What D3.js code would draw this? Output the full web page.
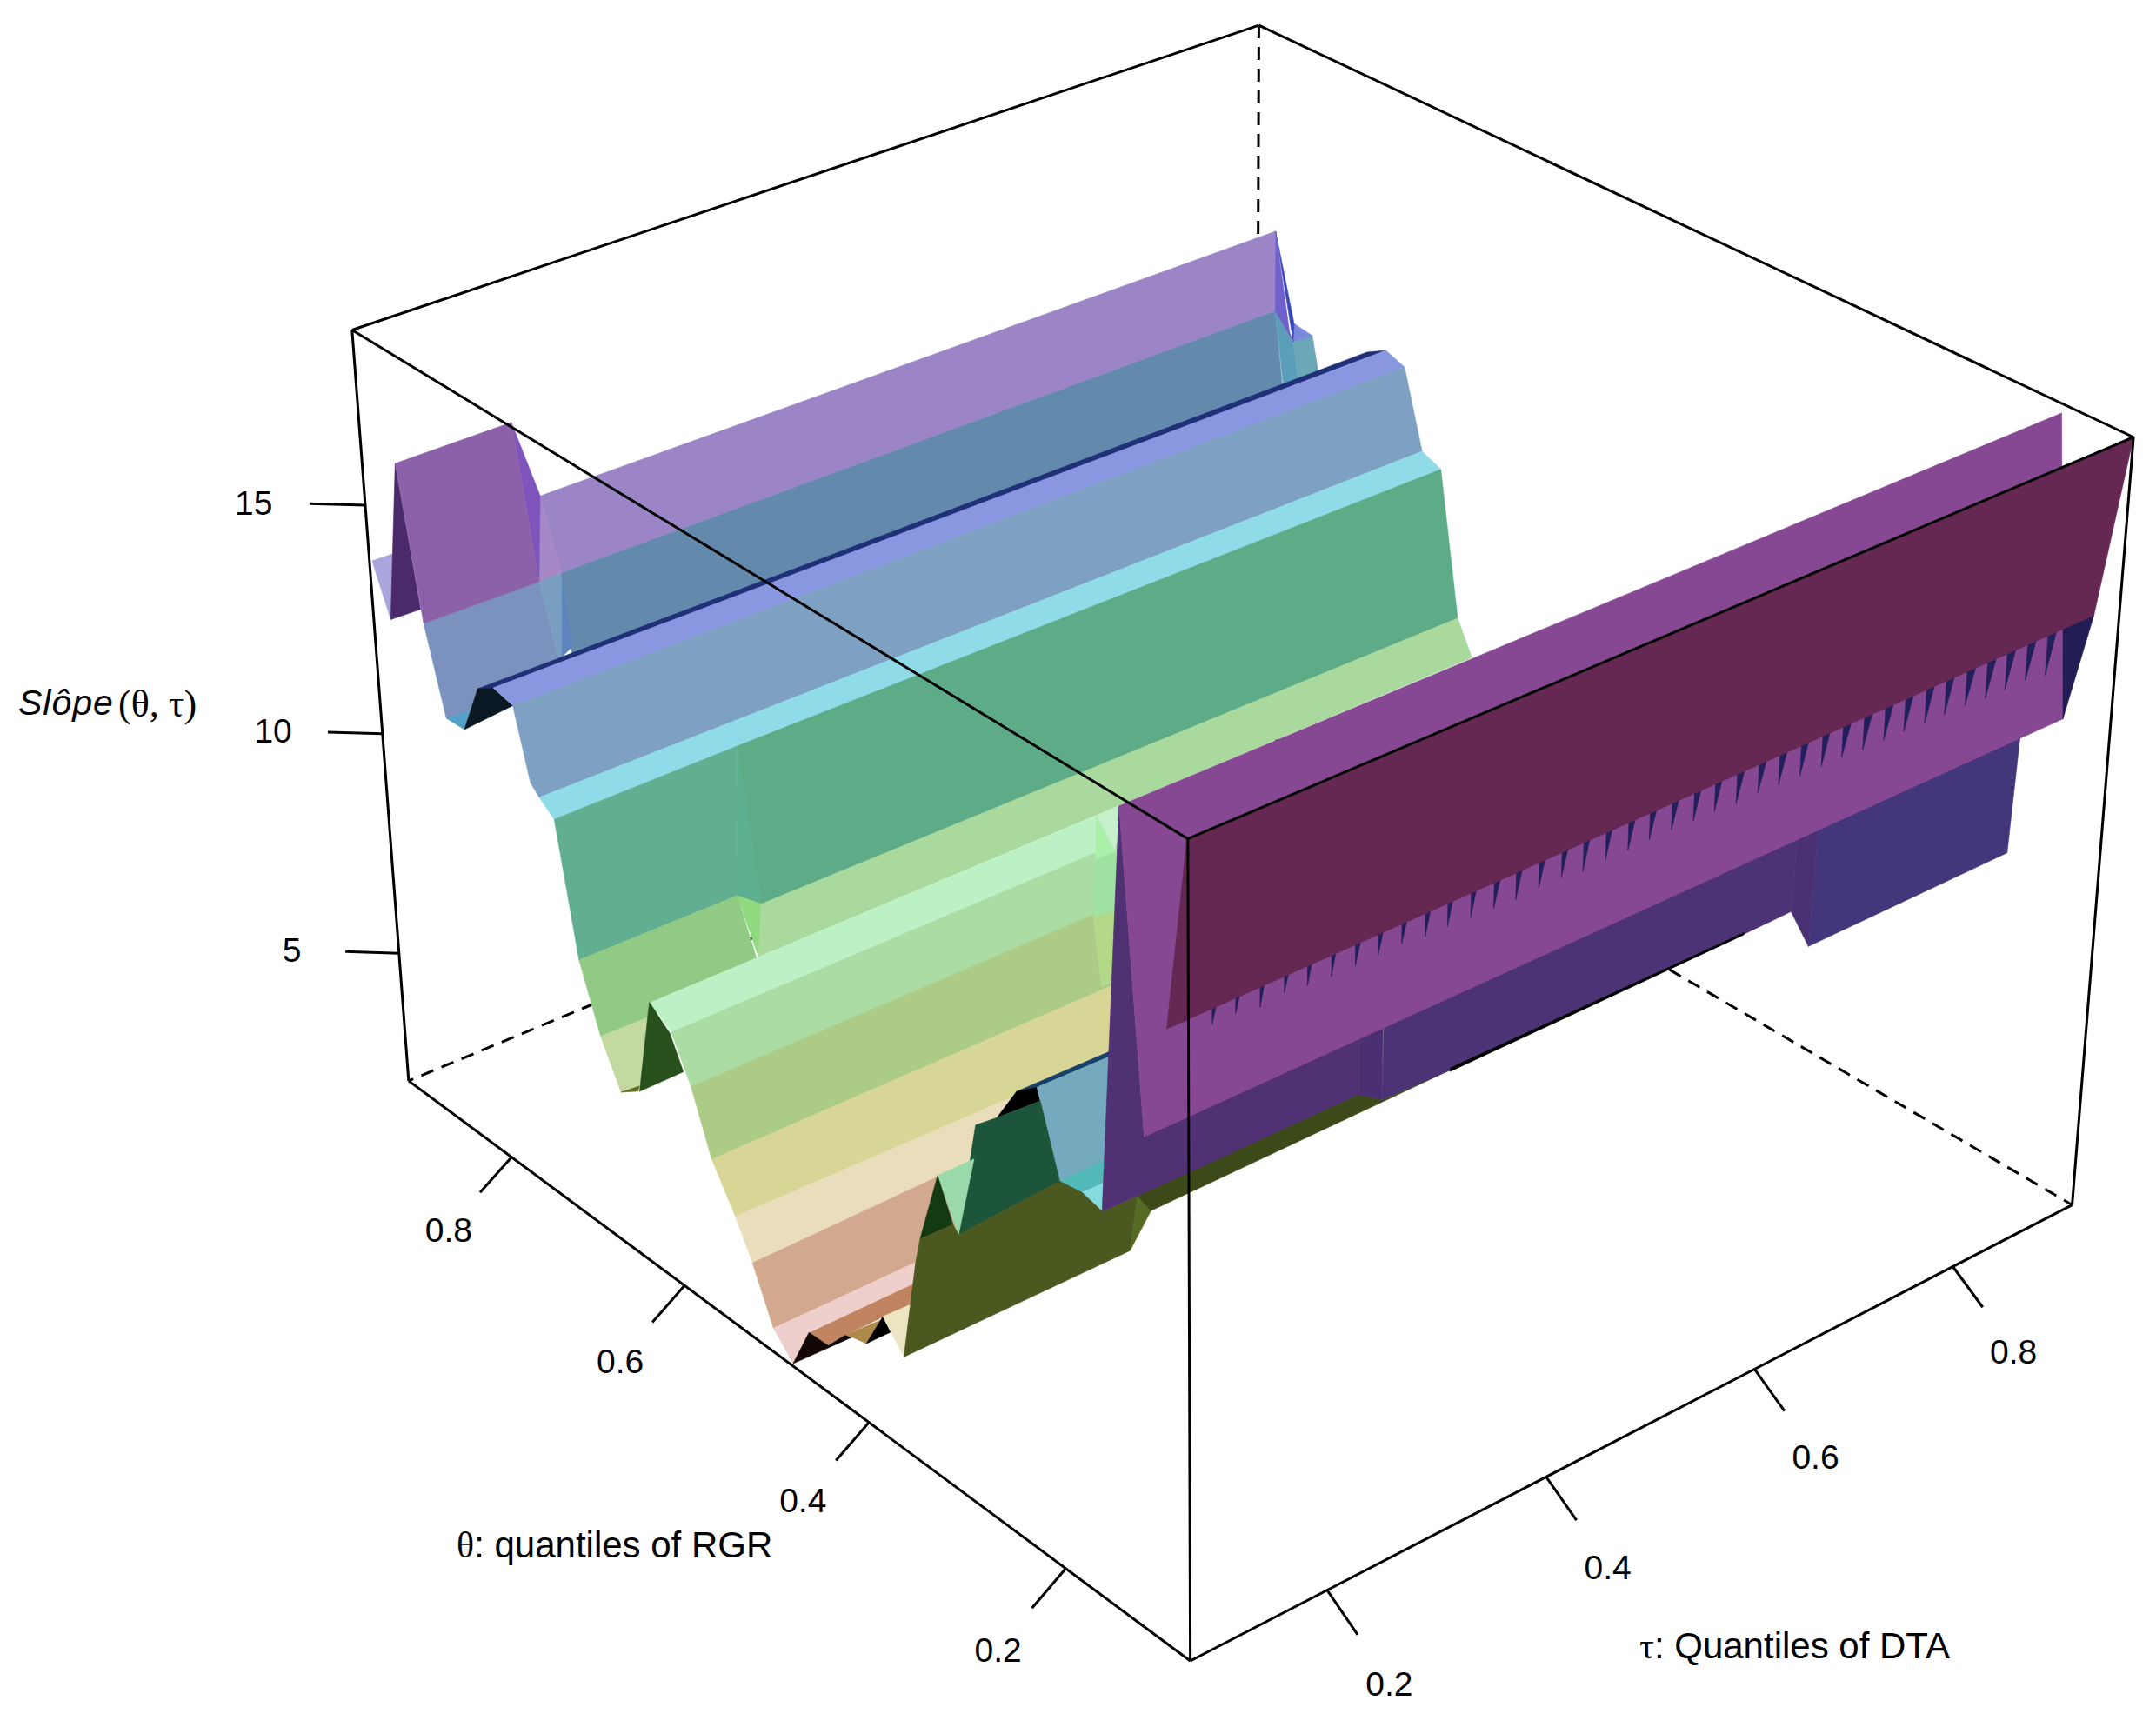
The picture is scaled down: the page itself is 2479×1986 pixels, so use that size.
<!DOCTYPE html>
<html><head><meta charset="utf-8">
<script src="https://cdn.jsdelivr.net/npm/d3@7"></script>
<style>html,body{margin:0;background:#fff}svg{display:block}</style></head><body>
<svg id="c" width="2479" height="1986"></svg>
<script>
// axis tick values
const thetaTicks=[0.2,0.4,0.6,0.8];
const tauTicks=[0.2,0.4,0.6,0.8];
const zTicks=[5,10,15];
// surface facets, back to front: fill, tau and theta (as fractions of the box), slope values
const facetFill=["#aaa5dc","#9b85c6","#a688c6","#6389ac","#5a9eba","#6aa7b7","#7a88dd","#3a49b8","#7060cb","#5e85bd","#7b92bf","#7a9ec0","#54a1c7","#4b2a6b","#7f55bd","#8b62aa","#203078","#0a1824","#8996e0","#7ea0c2","#8fdbe8","#62ae91","#5cb08f","#5dab87","#90ca85","#8fd97f","#a9d99c","#c4d9a0","#5c6a1e","#27501d","#bbf1c4","#aadca4","#accb87","#d8d696","#e9ddbb","#d2a98f","#c6efcb","#a9f0a9","#a0e2a2","#b4d88a","#efcfcb","#c08560","#130606","#ad8a4a","#000000","#ece5c2","#17406a","#000000","#74a9be","#53b9b8","#84dcdf","#1c5539","#9ad9a9","#133a13","#4b5820","#556b24","#3b4a18","#43367b","#4a3174","#4b3375","#4b2f72","#4f3174","#000000","#874893","#221c54"];
const facetTau=[[0,.03,.03,0],[.17,1,1,.2],[.17,.2,.17],[.2,1,1,.2],[1,1,1,1],[1,1,1,1],[1,1,1],[1,1,1],[1,1,1,1],[.2,.2,.2],[.03,.17,.2,0,0,0],[.17,.2,.2,.2],[0,0,0],[.03,0,.03],[.14,.17,.17],[.03,.14,.17,.03],[0,1,1,0],[0,0,0,0],[0,1,1,0],[0,1,1,0,0],[0,1,1,0],[0,.2,.2,0],[.2,.22,.2],[.2,1,1,.22],[0,.2,.2,.05,0],[.2,.22,.22],[.22,1,1,.22],[0,.05,.05,0],[0,.03,.03],[.03,.03,.05,.05],[0,.6,.6,0],[0,.6,.6,0],[0,.6,.6,0],[0,.6,.6,0],[0,.6,.6,0],[0,.6,.6,0],[.6,.6,.6],[.6,.6,.6],[.6,.6,.6,.6],[.6,.6,.6,.6],[0,.3,.3,.05,0],[.05,.3,.3,.2,.15,.08,.06],[0,.02,.04,.06,.07],[.06,.12,.1,.07],[.1,.12,.13],[.12,.15,.15],[.3,.5,.5,.3],[.3,.3,.3,.3],[.3,.5,.5,.3,.3],[.3,.5,.5,.3],[.3,.5,.3],[.3,.3,.3,.3,.3],[.3,.3,.3],[.3,.3,.3],[.3,.3,.3,.3,.3,.3,.3,.3,.3,.3],[.3,.3,.3,.3],[.3,.3,.3,.3,.3],[.9,1,1,.9],[.9,.9,.9,.9],[.3,.9,.9,.9,.3,.3],[.3,.3,.3,.3],[0,0,.3,.3,.1,0],[.3,.9,.9,.3],[0,1,1,0],[1,1,1]];
const facetTheta=[[.996,1.006,1.016,.975],[.989,.977,.977,1.007],[.989,1.007,.998],[1.007,.977,.966,.997],[.977,.953,.946,.966],[.953,.928,.920,.946],[.952,.928,.953],[.977,.952,.953],[.977,.977,.953,.958],[1.007,.997,1.014],[.971,.998,1.018,.856,.868,.904],[.998,1.007,1.014,1.018],[.904,.868,.879],[.996,.975,.974],[.982,.989,.998],[.996,.982,.998,.971],[.856,.857,.833,.834],[.879,.856,.834,.808],[.834,.833,.809,.808],[.808,.809,.785,.779,.790],[.779,.785,.761,.760],[.760,.772,.781,.737],[.772,.774,.781],[.772,.761,.736,.774],[.737,.781,.758,.714,.713],[.781,.774,.781],[.774,.736,.717,.781],[.713,.714,.731,.689],[.689,.704,.706],[.704,.684,.685,.669],[.642,.747,.744,.616],[.616,.744,.744,.593],[.593,.744,.745,.570],[.570,.745,.746,.542],[.542,.746,.747,.522],[.522,.747,.748,.498],[.777,.747,.753],[.777,.753,.779],[.779,.753,.753,.783],[.783,.753,.755,.773],[.498,.624,.624,.514,.474],[.514,.624,.625,.566,.542,.505,.504],[.474,.477,.478,.480,.484],[.480,.506,.503,.484],[.503,.505,.508],[.505,.505,.516],[.541,.645,.645,.515],[.541,.515,.511,.567],[.515,.645,.647,.488,.511],[.488,.647,.647,.460],[.460,.647,.435],[.595,.567,.511,.488,.621],[.647,.598,.621],[.647,.628,.673],[.700,.680,.673,.628,.621,.488,.460,.435,.391,.401],[.391,.375,.375,.401],[.391,.135,.109,.037,.375],[.211,.089,.095,.216],[.233,.211,.216,.237],[.109,.233,.237,.290,.037,.109],[.136,.110,.109,.135],[.072,.048,.136,.135,.112,.095],[.037,.288,.288,.037],[.072,.072,.048,.048],[.055,.025,.048]];
const facetZ=[[14.14,13.98,12.46,13.08],[14.34,14.52,12.66,12.23],[14.34,12.23,12.36],[12.23,12.66,10.80,10.30],[12.66,12.17,11.34,11.04],[12.17,12.54,11.78,11.34],[12.60,12.54,12.17],[14.52,12.60,12.17],[14.52,12.66,12.17,12.35],[12.23,10.68,10.26],[12.80,12.36,10.22,12.81,12.21,11.66],[12.36,12.23,10.26,10.22],[11.66,12.21,11.68],[16.01,13.08,13.08],[16.22,14.34,12.36],[16.01,16.22,12.36,12.80],[12.81,12.81,13.07,13.06],[11.68,12.81,13.06,12.95],[13.06,13.07,12.91,12.95],[12.95,12.91,11.19,11.28,11.48],[11.28,11.19,11.00,11.01],[11.01,10.83,7.38,8.18],[10.83,7.10,7.38],[10.83,11.00,7.75,7.10],[8.18,7.38,6.22,6.72,6.76],[7.38,7.10,5.81],[7.10,7.75,7.01,5.81],[6.76,6.72,4.94,5.79],[5.79,5.47,5.33],[5.35,7.59,6.71,6.03],[8.35,6.43,5.63,8.00],[8.00,5.63,4.20,7.07],[7.07,4.20,2.29,5.74],[5.74,2.29,.61,4.81],[4.81,.61,-.42,4.02],[4.02,-.42,-2.36,2.85],[5.86,6.43,5.28],[5.86,5.28,4.81],[4.81,5.28,3.88,3.38],[3.38,3.88,2.17,1.84],[2.85,.25,-.24,2.04,2.36],[2.04,-.24,-.81,.52,1.04,1.80,1.79],[2.36,2.83,2.32,2.33,2.13],[2.33,1.75,1.43,2.13],[1.43,1.83,1.33],[1.83,1.81,.45],[4.83,2.72,2.60,5.24],[4.83,5.24,4.98,3.91],[5.24,2.60,.08,3.42,4.98],[3.42,.14,-.41,3.51],[3.51,-.41,3.39],[3.40,3.91,4.98,3.42,.49],[1.57,2.57,.49],[1.57,.65,-.27],[-3.50,-.93,-.27,.65,.49,3.42,3.51,3.39,4.30,2.92],[4.30,4.64,4.16,2.92],[4.30,9.68,9.88,11.37,4.16],[9.90,12.40,9.19,6.58],[9.50,9.90,6.58,7.13],[12.06,9.50,7.13,5.99,11.37,9.88],[11.50,12.00,9.88,9.68],[18.83,12.65,11.50,9.68,10.17,10.55],[11.34,6.02,6.07,11.41],[18.83,18.81,12.63,12.65],[14.50,15.07,12.63]];
// the front wall, drawn after its saw-teeth
const wallTau=[0,1,1,0],wallTheta=[.001,.000,.025,.023],wallZ=[18.99,18.99,15.07,15.09];
// saw-teeth under the wall: position, depth and width
const toothTau=[.045,.068,.092,.116,.139,.163,.187,.210,.234,.258,.281,.305,.329,.352,.376,.400,.423,.447,.471,.494,.518,.542,.565,.589,.613,.636,.660,.684,.707,.731,.755,.778,.802,.825,.849,.873,.896,.920,.944];
const toothDepth=[.31,.31,.40,.33,.40,.43,.43,.43,.40,.48,.46,.50,.52,.54,.52,.50,.58,.55,.56,.54,.54,.56,.56,.60,.58,.60,.62,.62,.62,.66,.66,.66,.70,.70,.70,.74,.74,.74,.82];
const toothWidth=[.005,.005,.005,.005,.005,.005,.006,.006,.006,.006,.006,.006,.007,.007,.007,.007,.007,.007,.008,.008,.008,.008,.008,.009,.009,.009,.009,.009,.010,.010,.010,.010,.010,.010,.011,.011,.011,.011,.011];
const toothTheta=.024,toothEdge=15.08;

const svg=d3.select("#c");
const sans="'Liberation Sans',Arial,sans-serif",serif="'Liberation Serif',serif";
// box corners on the page
const corners=[[0,1,1,405,379],[0,1,0,470,1243],[0,0,1,1365,965],[0,0,0,1369,1910],[1,0,1,2453,503],[1,0,0,2383,1385],[1,1,1,1448,29],[1,1,0,1444,838]];
function fitView(C){const A=[],b=[];for(const[X,Y,Z,u,v]of C){A.push([X,Y,Z,1,0,0,0,0,-u*X,-u*Y,-u*Z]);b.push(u);A.push([0,0,0,0,X,Y,Z,1,-v*X,-v*Y,-v*Z]);b.push(v);}
const n=11,M=[];for(let i=0;i<n;i++){M.push([]);for(let j=0;j<n;j++){let s=0;for(let k=0;k<A.length;k++)s+=A[k][i]*A[k][j];M[i].push(s);}let s=0;for(let k=0;k<A.length;k++)s+=A[k][i]*b[k];M[i].push(s);}
for(let i=0;i<n;i++){let p=i;for(let r=i;r<n;r++)if(Math.abs(M[r][i])>Math.abs(M[p][i]))p=r;[M[i],M[p]]=[M[p],M[i]];for(let r=0;r<n;r++)if(r!=i){const f=M[r][i]/M[i][i];for(let c=i;c<=n;c++)M[r][c]-=f*M[i][c];}}
return M.map((r,i)=>r[n]/r[i]);}
const h=fitView(corners);
const P=(t,th,w)=>{const d=h[8]*t+h[9]*th+h[10]*w+1;return[(h[0]*t+h[1]*th+h[2]*w+h[3])/d,(h[4]*t+h[5]*th+h[6]*w+h[7])/d];};
// quantile axes run over part of 0..1; slope axis over the box height
const quantS=d3.scaleLinear().domain([.08,.925]).range([0,1]);
const zS=d3.scaleLinear().domain([2.0,18.7]).range([0,1]);
const surfaceZ=z=>zS(z-0.3);
const line=d3.line().curve(d3.curveLinearClosed);

// hidden edges
const edge=(g,a,b,dash)=>g.append("path").attr("d",d3.line()([P(...a),P(...b)])).attr("fill","none").attr("stroke","#000").attr("stroke-width",3).attr("stroke-dasharray",dash||null);
const back=svg.append("g");
edge(back,[1,1,1],[1,1,0],"15,10");edge(back,[1,1,0],[0,1,0],"15,10");edge(back,[1,1,0],[1,0,0],"15,10");

// surface
const surf=svg.append("g");
const poly=(pts,fill)=>surf.append("path").attr("d",line(pts)).attr("fill",fill).attr("stroke",fill).attr("stroke-width",.6);
facetFill.forEach((f,i)=>poly(facetTau[i].map((t,j)=>P(t,facetTheta[i][j],surfaceZ(facetZ[i][j]))),f));
toothTau.forEach((t,i)=>poly([
 P(t,toothTheta,surfaceZ(toothEdge+.1)),
 P(t+toothWidth[i],toothTheta,surfaceZ(toothEdge+.1)),
 P(t,toothTheta,surfaceZ(toothEdge-toothDepth[i]))],"#221f5a"));
poly(wallTau.map((t,j)=>P(t,wallTheta[j],surfaceZ(wallZ[j]))),"#652852");

// visible edges
const front=svg.append("g");
[[[0,1,1],[1,1,1]],[[1,1,1],[1,0,1]],[[1,0,1],[0,0,1]],[[0,0,1],[0,1,1]],[[0,1,1],[0,1,0]],[[1,0,1],[1,0,0]],[[0,0,1],[0,0,0]],[[0,1,0],[0,0,0]],[[0,0,0],[1,0,0]]].forEach(([a,b])=>edge(front,a,b));

// ticks and tick labels
const tk=(a,b,c,label)=>{
 front.append("path").attr("d",d3.line()([a,b])).attr("stroke","#000").attr("stroke-width",3).attr("fill","none");
 svg.append("text").attr("x",c[0]).attr("y",c[1]).attr("dy","0.36em").attr("text-anchor","middle").attr("font-family",sans).attr("font-size",39).text(label);
};
const fmt=d3.format(".1f");
thetaTicks.forEach(v=>tk(P(0,quantS(v),0),P(-.035,quantS(v),-.03),P(-.07,quantS(v),-.062),fmt(v)));
tauTicks.forEach(v=>tk(P(quantS(v),0,0),P(quantS(v),-.034,-.03),P(quantS(v),-.069,-.064),fmt(v)));
zTicks.forEach(v=>tk(P(0,1,zS(v)),P(-.035,1.03,zS(v)),P(-.07,1.06,zS(v)),String(v)));

// axis titles
const t1=svg.append("text").attr("x",525).attr("y",1791).attr("font-size",42).attr("font-family",sans);
t1.append("tspan").attr("font-family",serif).text("θ");t1.append("tspan").text(": quantiles of RGR");
const t2=svg.append("text").attr("x",1885).attr("y",1907).attr("font-size",42).attr("font-family",sans);
t2.append("tspan").attr("font-family",serif).text("τ");t2.append("tspan").text(": Quantiles of DTA");
const t3=svg.append("text").attr("x",21).attr("y",822).attr("font-size",41).attr("font-family",sans);
t3.append("tspan").attr("font-style","italic").attr("letter-spacing",1).text("Slôpe");
t3.append("tspan").attr("x",136).attr("y",824).attr("font-size",44).attr("font-family",serif).text("(θ, τ)");
</script></body></html>
